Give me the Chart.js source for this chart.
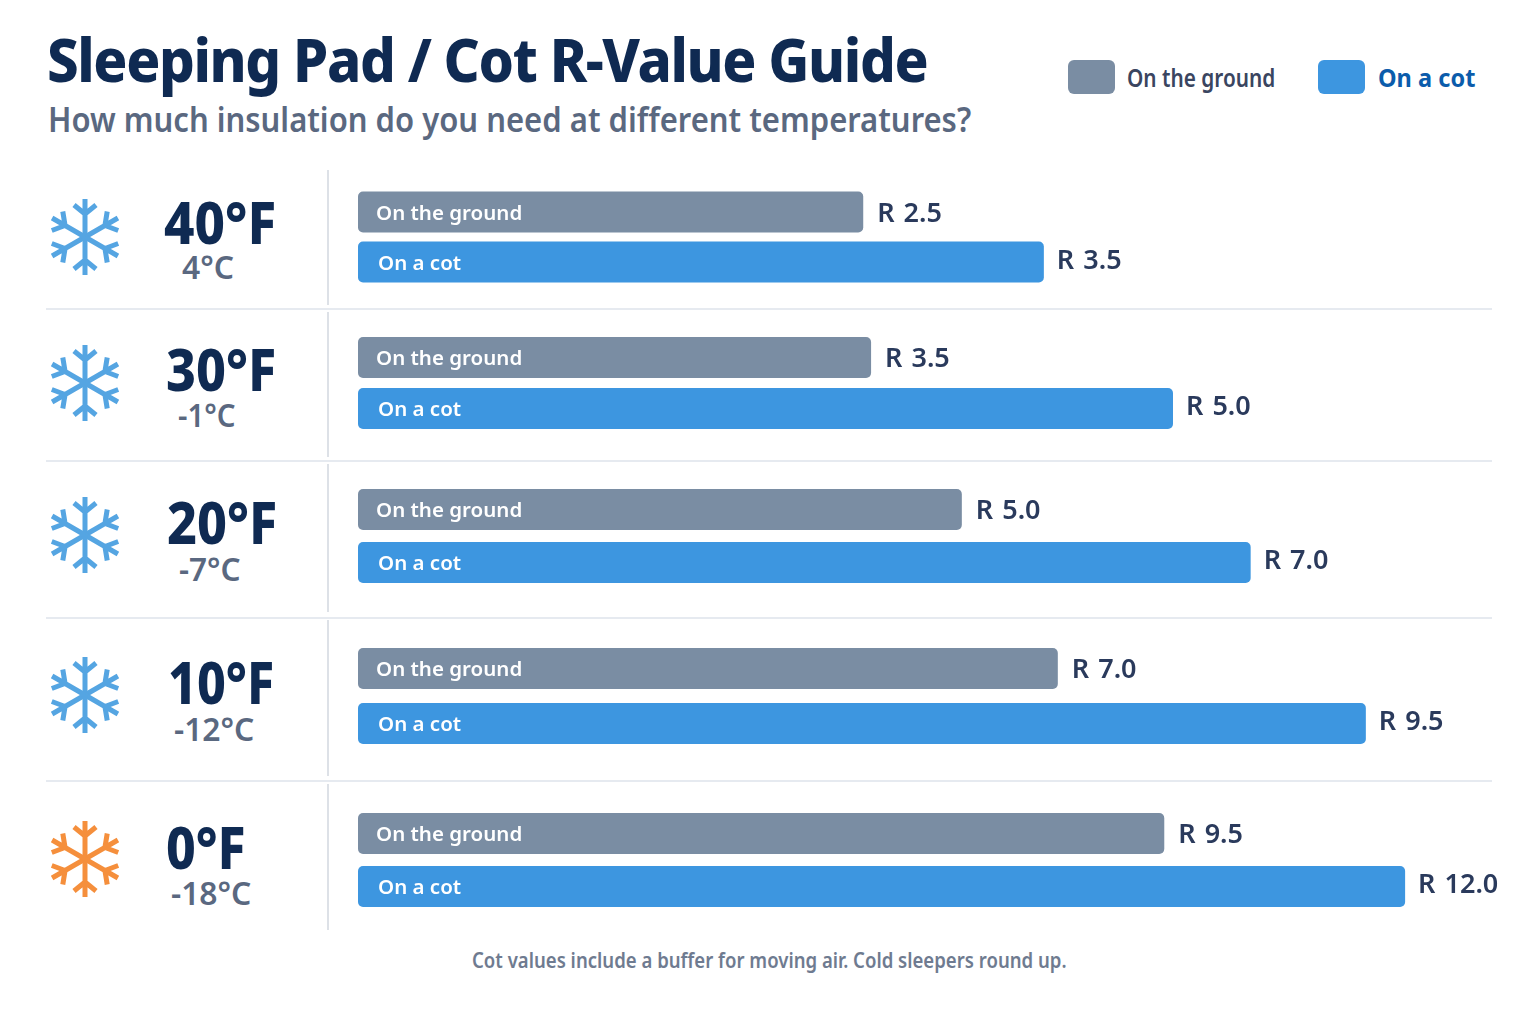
<!DOCTYPE html>
<html>
<head>
<meta charset="utf-8">
<title>Sleeping Pad / Cot R-Value Guide</title>
<script src="https://cdn.jsdelivr.net/npm/chart.js@4"></script>
<style>
  html, body { margin: 0; background: #fff; }
  #page { position: relative; width: 1536px; height: 1024px; overflow: hidden; font-family: "Noto Sans", sans-serif; }
  .txt { position: absolute; white-space: nowrap; line-height: 1; transform-origin: left center; }
  .line { position: absolute; background: #e2e7ee; }
  .swatch { position: absolute; width: 47px; height: 34px; border-radius: 6px; top: 60px; }
  .row-chart { position: absolute; left: 358px; width: 1178px; }
</style>
</head>
<body>
<div id="page"></div>
<script>
const tempF = ["40°F", "30°F", "20°F", "10°F", "0°F"];
const tempC = ["4°C", "-1°C", "-7°C", "-12°C", "-18°C"];
const seriesNames = ["On the ground", "On a cot"];

// the printed R-values
const groundLabels = ["R 2.5", "R 3.5", "R 5.0", "R 7.0", "R 9.5"];
const cotLabels = ["R 3.5", "R 5.0", "R 7.0", "R 9.5", "R 12.0"];

// bar lengths as drawn in the picture, on a scale where the longest bar is 12.
// they are not proportional to the printed values (ground R 3.5 != cot R 3.5)
const groundLengths = [5.79, 5.88, 6.92, 8.02, 9.24];
const cotLengths = [7.86, 9.34, 10.23, 11.55, 12.0];

const GREY = "#7a8da3", BLUE = "#3d96e0", NAVY = "#0f2a52", SLATE = "#5a6880";

// layout of each row, top to bottom
const rows = [
  { groundY: 212, gap: 50, flakeY: 237, fx: 164, fw: 112, fy: 222, cx: 182, cw: 52, cy: 266 },
  { groundY: 357, gap: 51, flakeY: 383, fx: 166, fw: 110, fy: 369, cx: 178, cw: 58, cy: 414 },
  { groundY: 509, gap: 53, flakeY: 535, fx: 167, fw: 110, fy: 522, cx: 179, cw: 62, cy: 568 },
  { groundY: 668, gap: 55, flakeY: 695, fx: 168, fw: 106, fy: 682, cx: 174, cw: 80, cy: 728 },
  { groundY: 833, gap: 53, flakeY: 859, fx: 166, fw: 80, fy: 847, cx: 171, cw: 80, cy: 892 }
];
const dividers = [308, 460, 617, 780];
const vSegments = [[170, 305], [312, 457], [464, 612], [620, 776], [784, 930]];

const page = document.getElementById("page");

// absolute text squeezed to the width it has in the reference
function addText(str, x, cy, width, size, weight, color, spacing) {
  const el = document.createElement("div");
  el.className = "txt";
  el.textContent = str;
  el.style.left = x + "px";
  el.style.top = (cy - size / 2) + "px";
  el.style.fontSize = size + "px";
  el.style.fontWeight = weight;
  el.style.color = color;
  if (spacing) el.style.letterSpacing = spacing + "px";
  page.appendChild(el);
  el.style.transform = "scaleX(" + (width / el.offsetWidth) + ")";
}

function addLine(x, y, w, h, color) {
  const el = document.createElement("div");
  el.className = "line";
  el.style.cssText = `left:${x}px;top:${y}px;width:${w}px;height:${h}px;background:${color}`;
  page.appendChild(el);
}

function addFlake(cx, cy, color) {
  let arms = "";
  for (let a = 0; a < 6; a++) {
    arms += `<g transform="rotate(${a * 60})"><path d="M0 0V-38M-11 -32L0 -23L11 -32"/></g>`;
  }
  const box = document.createElement("div");
  box.style.cssText = `position:absolute;left:${cx - 42}px;top:${cy - 42}px;width:84px;height:84px`;
  box.innerHTML = `<svg width="84" height="84" viewBox="-42 -42 84 84" fill="none" stroke="${color}" stroke-width="5">${arms}</svg>`;
  page.appendChild(box);
}

addText("Sleeping Pad / Cot R-Value Guide", 47, 58, 880, 61, 800, NAVY, -1.5);
addText("How much insulation do you need at different temperatures?", 48, 119, 923, 34, 600, SLATE);

const sw1 = document.createElement("div");
sw1.className = "swatch"; sw1.style.left = "1068px"; sw1.style.background = GREY;
page.appendChild(sw1);
addText(seriesNames[0], 1127, 77, 148, 25, 600, "#3a4560");
const sw2 = document.createElement("div");
sw2.className = "swatch"; sw2.style.left = "1318px"; sw2.style.background = BLUE;
page.appendChild(sw2);
addText(seriesNames[1], 1378, 77, 97, 25, 700, "#0b5cab");

dividers.forEach(y => addLine(46, y, 1446, 2, "#e6eaf0"));
vSegments.forEach(s => addLine(327, s[0], 2, s[1] - s[0], "#dde1e7"));

addText("Cot values include a buffer for moving air. Cold sleepers round up.", 472, 960, 595, 21, 600, "#6f7b90");

// writes the name inside each bar and the R-value after its end
const barText = {
  id: "barText",
  afterDatasetsDraw(chart, args, opts) {
    const ctx = chart.ctx;
    ctx.save();
    ctx.textBaseline = "middle";
    chart.data.datasets.forEach((ds, i) => {
      const bar = chart.getDatasetMeta(i).data[0];
      ctx.textAlign = "left";
      ctx.fillStyle = "#fff";
      ctx.font = '600 20.5px "Noto Sans"';
      ctx.fillText(ds.label, bar.base + (i === 0 ? 18 : 20), bar.y + 2);
      ctx.fillStyle = "#2a3a5c";
      ctx.font = '600 27px "Noto Sans"';
      ctx.wordSpacing = "2px";
      ctx.fillText(opts.values[i], bar.x + (i === 0 ? 14 : 13), bar.y + (i === 0 ? 2 : -1));
      ctx.wordSpacing = "0px";
    });
    ctx.restore();
  }
};

rows.forEach((r, i) => {
  addFlake(85, r.flakeY, i === 4 ? "#f58f3c" : "#55a5e2");
  addText(tempF[i], r.fx, r.fy, r.fw, 58, 800, NAVY);
  addText(tempC[i], r.cx, r.cy, r.cw, 33, 600, SLATE);

  // one chart per row, the row spacing in the picture is uneven
  const holder = document.createElement("div");
  holder.className = "row-chart";
  holder.style.top = (r.groundY - r.gap / 2) + "px";
  holder.style.height = (r.gap * 2) + "px";
  const canvas = document.createElement("canvas");
  holder.appendChild(canvas);
  page.appendChild(holder);

  new Chart(canvas, {
    type: "bar",
    data: {
      labels: [tempF[i]],
      datasets: [
        { label: seriesNames[0], data: [groundLengths[i]], backgroundColor: GREY },
        { label: seriesNames[1], data: [cotLengths[i]], backgroundColor: BLUE }
      ]
    },
    options: {
      indexAxis: "y",
      responsive: true,
      maintainAspectRatio: false,
      animation: false,
      datasets: { bar: { barPercentage: 41 / r.gap, categoryPercentage: 1, borderRadius: 5, borderSkipped: false } },
      scales: {
        x: { display: false, min: 0, max: 13.5 },
        y: { display: false }
      },
      plugins: {
        legend: { display: false },
        tooltip: { enabled: false },
        barText: { values: [groundLabels[i], cotLabels[i]] }
      }
    },
    plugins: [barText]
  });
});
</script>
</body>
</html>
